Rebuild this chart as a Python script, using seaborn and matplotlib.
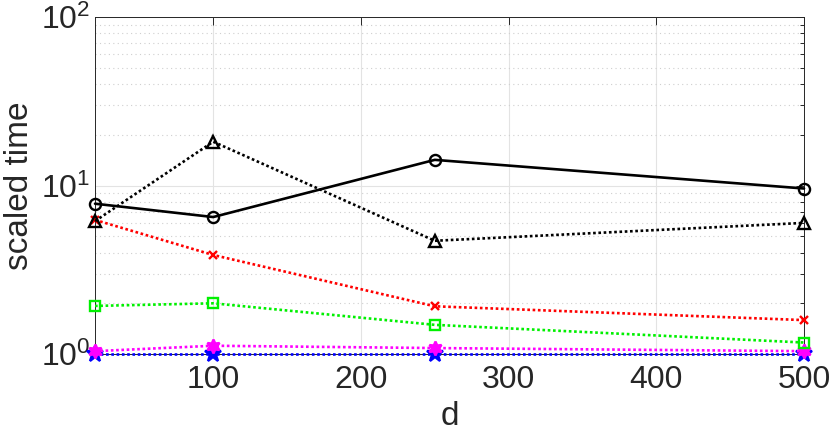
import numpy as np
import pandas as pd
import matplotlib
matplotlib.use("Agg")
import matplotlib.pyplot as plt
import seaborn as sns
from matplotlib.ticker import LogLocator, FixedLocator, NullFormatter

d = [20, 100, 250, 500]
black_solid = [7.8, 6.5, 14.2, 9.6]
black_dotted = [6.15, 18.2, 4.7, 6.0]
red_vals = [6.25, 3.87, 1.92, 1.59]
green_vals = [1.93, 2.0, 1.49, 1.17]
magenta_vals = [1.04, 1.12, 1.085, 1.04]
blue_vals = [1.0, 1.0, 1.0, 1.0]

sns.set_style("white")
plt.rcParams['font.family'] = ['Liberation Sans', 'DejaVu Sans']
plt.rcParams['mathtext.fontset'] = 'custom'
plt.rcParams['mathtext.rm'] = 'Liberation Sans'

fig = plt.figure(figsize=(8.3, 4.36), dpi=100)
ax = fig.add_axes([0.1145, 0.188, 0.8542, 0.773])

dots = (0, (1, 1))
# series style: (values, color, linestyle, marker, markersize, fill)
series = [
    (blue_vals, 'blue', dots, '*', 12, True),
    (magenta_vals, 'magenta', dots, (6, 1, 0), 10, True),
    (green_vals, '#00f000', dots, 's', 7, False),
    (red_vals, 'red', dots, 'x', 6, True),
    (black_dotted, 'black', dots, '^', 9, False),
    (black_solid, 'black', '-', 'o', 8, False),
]

for vals, col, ls, mk, ms, fill in series:
    df = pd.DataFrame({'d': d, 't': vals})
    sns.lineplot(data=df, x='d', y='t', ax=ax, color=col, linestyle=ls,
                 marker=mk, markersize=ms, linewidth=1.9,
                 markerfacecolor=(col if fill else 'none'),
                 markeredgecolor=col, markeredgewidth=1.7,
                 dash_capstyle='butt', clip_on=False, zorder=3)

ax.set_yscale('log')
ax.set_xlim(20, 500)
ax.set_ylim(1, 100)
ax.xaxis.set_major_locator(FixedLocator([100, 200, 300, 400, 500]))
ax.yaxis.set_major_locator(LogLocator(base=10, numticks=5))
ax.yaxis.set_minor_locator(LogLocator(base=10, subs=np.arange(2, 10), numticks=20))
ax.yaxis.set_minor_formatter(NullFormatter())

ax.grid(True, which='major', color='#e3e3e3', linewidth=0.8, linestyle='-')
ax.grid(True, which='minor', axis='y', color='#cfcfcf', linewidth=0.8, linestyle=(0, (1, 3)))
ax.set_axisbelow(True)

for s in ax.spines.values():
    s.set_visible(True)
    s.set_color('#262626')
    s.set_linewidth(0.7)

ax.tick_params(which='both', direction='in', top=True, right=True,
               colors='#262626', labelsize=23, width=0.7)
ax.tick_params(which='major', length=6)
ax.tick_params(which='minor', length=3)
ax.tick_params(axis='x', pad=8)

ax.set_xlabel('d', fontsize=24, color='#262626')
ax.set_ylabel('scaled time', fontsize=24, color='#262626')

fig.savefig('out.png', dpi=100)
